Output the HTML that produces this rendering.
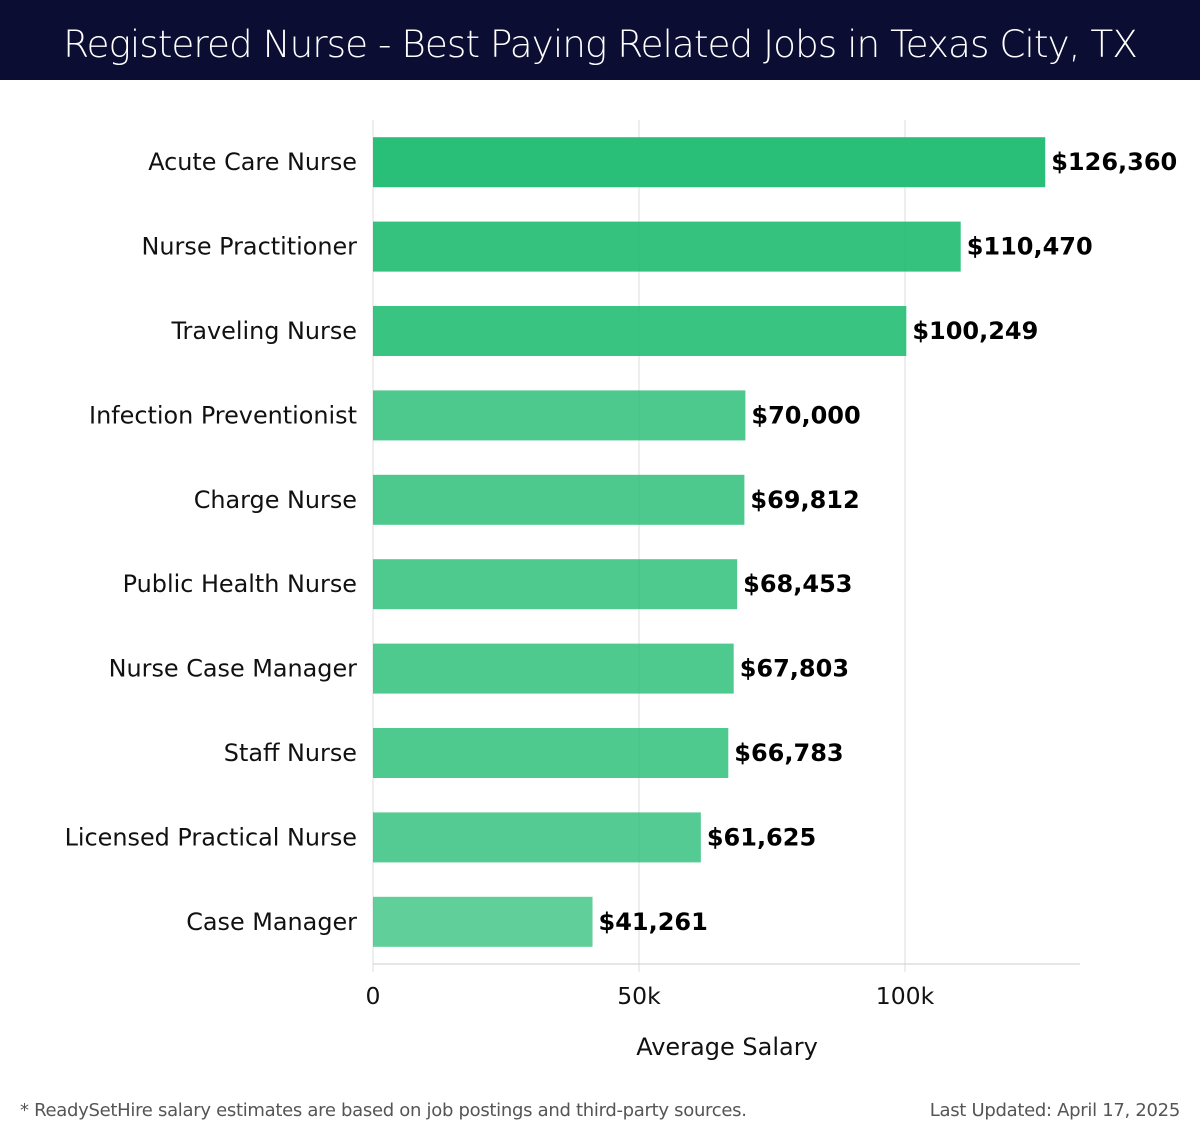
<!DOCTYPE html>
<html><head><meta charset="utf-8"><style>
body{margin:0;width:1200px;height:1140px;background:#fff;font-family:"DejaVu Sans","Liberation Sans",sans-serif;overflow:hidden}
#hdr{position:absolute;left:0;top:0;width:1200px;height:80px;background:#0b0d33;color:#fff;font-size:37.4px;text-align:center;line-height:88px;font-family:"DejaVu Sans","Liberation Sans",sans-serif;font-weight:300;letter-spacing:-1px}
.ft{position:absolute;top:1100px;font-size:18px;color:#555;letter-spacing:-0.3px}
</style></head><body>
<div id="hdr">Registered Nurse - Best Paying Related Jobs in Texas City, TX</div>
<svg id="c" width="1200" height="1140" style="position:absolute;left:0;top:0"></svg>
<div class="ft" style="left:20px">* ReadySetHire salary estimates are based on job postings and third-party sources.</div>
<div class="ft" style="right:20px">Last Updated: April 17, 2025</div>
<script>
const categories=["Acute Care Nurse","Nurse Practitioner","Traveling Nurse","Infection Preventionist","Charge Nurse","Public Health Nurse","Nurse Case Manager","Staff Nurse","Licensed Practical Nurse","Case Manager"];
const values=[126360,110470,100249,70000,69812,68453,67803,66783,61625,41261];
const valueLabels=["$126,360","$110,470","$100,249","$70,000","$69,812","$68,453","$67,803","$66,783","$61,625","$41,261"];
const ticks=[0,50000,100000];
const tickLabels=["0","50k","100k"];
const NS="http://www.w3.org/2000/svg";
const svg=document.getElementById('c');
const x0=373,pxPer=(905-373)/100000,top0=120,band=84.4;
const x=v=>x0+v*pxPer;
const yc=i=>top0+band*(i+0.5);
const max=Math.max(...values);
function mk(t,a){const e=document.createElementNS(NS,t);for(const k in a)e.setAttribute(k,a[k]);svg.appendChild(e);return e;}
ticks.forEach((t,i)=>{
 const g=mk('line',{x1:x(t),x2:x(t),y1:120,y2:972,stroke:'#ddd','stroke-width':1});
 
 
 const l=mk('text',{x:x(t),y:1004,'text-anchor':'middle','font-size':23.5,fill:'#111'});
 l.textContent=tickLabels[i];
 
 
});
const ax=mk('line',{x1:373,x2:1080,y1:964,y2:964,stroke:'#ccc','stroke-width':1});


categories.forEach((c,i)=>{
 const y=yc(i);
 const b=mk('rect',{x:x0,y:y-25,width:x(values[i])-x0,height:50,fill:'#21bc72','fill-opacity':0.6+0.36*values[i]/max});
 
 
 const t=mk('text',{x:357,y:y+8,'text-anchor':'end','font-size':23.9,fill:'#111'});
 t.textContent=c;
 
 
 const v=mk('text',{x:x(values[i])+6,y:y+8,'font-size':24,'font-weight':'bold',fill:'#000'});
 v.textContent=valueLabels[i];
 
 
});
const at=mk('text',{x:727,y:1055,'text-anchor':'middle','font-size':24,fill:'#111'});
at.textContent="Average Salary";


</script>
</body></html>
